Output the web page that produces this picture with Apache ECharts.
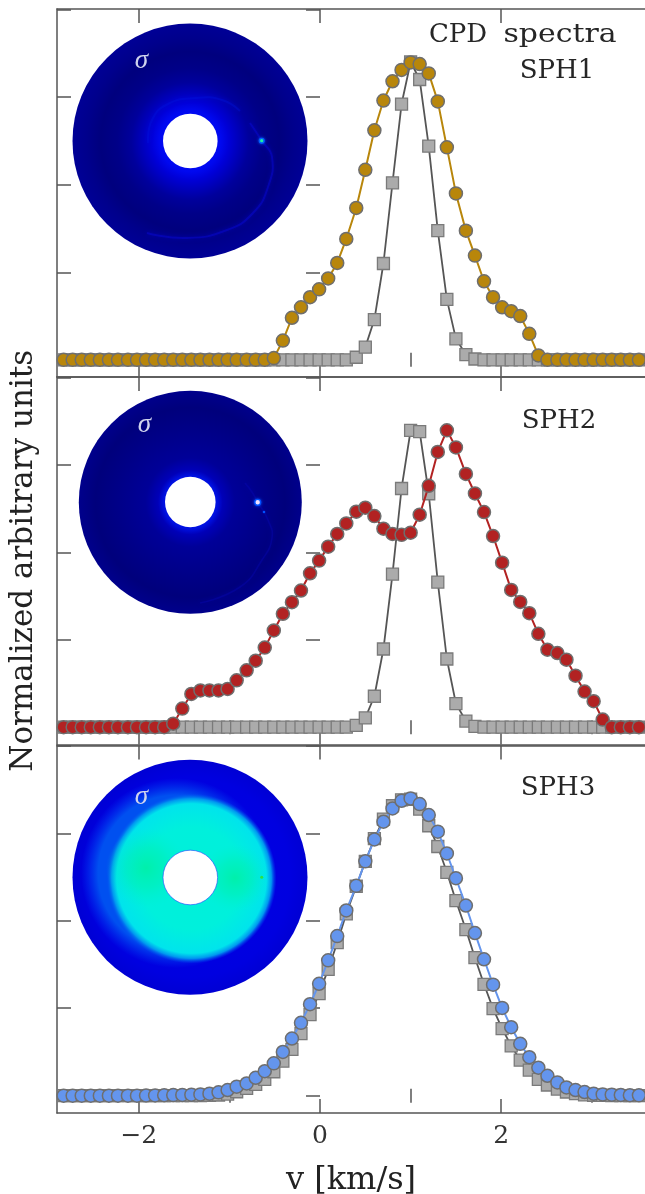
<!DOCTYPE html>
<html><head><meta charset="utf-8">
<style>html,body{margin:0;padding:0;background:#fff}#c{width:645px;height:1194px}</style>
<script src="https://cdn.jsdelivr.net/npm/echarts@6/dist/echarts.min.js"></script>
</head><body><div id="c"></div>
<script>
const velocity=[-2.83,-2.73,-2.63,-2.53,-2.43,-2.33,-2.23,-2.12,-2.02,-1.92,-1.82,-1.72,-1.62,-1.52,-1.42,-1.32,-1.22,-1.12,-1.02,-0.92,-0.81,-0.71,-0.61,-0.51,-0.41,-0.31,-0.21,-0.11,-0.01,0.09,0.19,0.29,0.40,0.50,0.60,0.70,0.80,0.90,1.00,1.10,1.20,1.30,1.40,1.50,1.61,1.71,1.81,1.91,2.01,2.11,2.21,2.31,2.41,2.51,2.62,2.72,2.82,2.92,3.02,3.12,3.22,3.32,3.42,3.52];
const sph1=[0,0,0,0,0,0,0,0,0,0,0,0,0,0,0,0,0,0,0,0,0,0,0,0.02,0.22,0.48,0.60,0.715,0.805,0.93,1.106,1.38,1.734,2.17,2.62,2.96,3.18,3.31,3.395,3.376,3.27,2.95,2.426,1.90,1.475,1.19,0.897,0.715,0.60,0.555,0.50,0.297,0.05,0,0,0,0,0,0,0,0,0,0,0];
const ref1=[0,0,0,0,0,0,0,0,0,0,0,0,0,0,0,0,0,0,0,0,0,0,0,0,0,0,0,0,0,0,0,0,0.03,0.145,0.46,1.10,2.02,2.92,3.40,3.20,2.44,1.475,0.69,0.24,0.06,0.01,0,0,0,0,0,0,0,0,0,0,0,0,0,0,0,0,0,0];
const sph2=[0,0,0,0,0,0,0,0,0,0,0,0,0.04,0.213,0.38,0.42,0.42,0.42,0.437,0.536,0.65,0.76,0.91,1.106,1.297,1.43,1.563,1.76,1.905,2.065,2.21,2.33,2.464,2.51,2.414,2.27,2.21,2.20,2.224,2.43,2.76,3.148,3.395,3.20,2.897,2.673,2.46,2.186,1.882,1.57,1.433,1.304,1.068,0.886,0.848,0.772,0.589,0.407,0.297,0.087,0,0,0,0];
const ref2=[0,0,0,0,0,0,0,0,0,0,0,0,0,0,0,0,0,0,0,0,0,0,0,0,0,0,0,0,0,0,0,0,0.02,0.106,0.354,0.894,1.75,2.73,3.395,3.38,2.67,1.66,0.78,0.27,0.07,0.01,0,0,0,0,0,0,0,0,0,0,0,0,0,0,0,0,0,0];
const sph3=[0,0,0,0,0,0,0,0,0,0.002,0.003,0.005,0.007,0.009,0.012,0.015,0.023,0.038,0.065,0.103,0.14,0.205,0.28,0.37,0.50,0.654,0.833,1.046,1.28,1.548,1.825,2.118,2.40,2.68,2.93,3.133,3.285,3.373,3.40,3.335,3.21,3.02,2.77,2.487,2.175,1.86,1.56,1.27,1.004,0.783,0.593,0.44,0.32,0.228,0.152,0.095,0.065,0.042,0.023,0.015,0.012,0.008,0.005,0.004];
const ref3=[0,0,0,0,0,0,0,0,0,0,0,0,0,0,0,0.002,0.005,0.008,0.019,0.045,0.084,0.13,0.186,0.274,0.395,0.53,0.71,0.928,1.167,1.445,1.75,2.08,2.395,2.68,2.94,3.163,3.316,3.384,3.39,3.278,3.087,2.85,2.555,2.23,1.90,1.578,1.274,0.996,0.768,0.57,0.407,0.293,0.186,0.122,0.076,0.042,0.023,0.01,0.005,0.003,0.002,0,0,0];
const panelNames=['SPH1','SPH2','SPH3'];
const colours=['#B8860B','#B22222','#6495ED'];
const spectra=[sph1,sph2,sph3];
const references=[ref1,ref2,ref3];
const majorX=[-2,0,2], minorX=[-1,1,3], yTicks=[0,1,2,3,4];
const FONT='DejaVu Serif', AXC='#555';

const tops=[9,377,745.5], H=367.5, yMins=[-0.19,-0.198,-0.198];
const grid=tops.map(t=>({left:57,right:0,top:t,height:H,containLabel:false,outerBoundsMode:'none'}));
const xAxis=[],yAxis=[],series=[];
tops.forEach((t,g)=>{
  const base={type:'value',gridIndex:g,min:-2.903,max:3.587,splitLine:{show:false},axisLabel:{show:false},axisLine:{show:false}};
  const mk=(pos,vals,len,extra)=>Object.assign({},base,{position:pos,axisTick:{show:true,inside:true,length:len,customValues:vals,lineStyle:{color:AXC,width:1.5}}},extra||{});
  const line={axisLine:{show:true,onZero:false,lineStyle:{color:AXC,width:1.5}}};
  const bottom=mk('bottom',majorX,14,line);
  if(g===2){
    bottom.axisLabel={show:true,customValues:majorX,margin:11,fontFamily:FONT,fontSize:25,color:'#333',formatter:v=>String(v).replace('-','\u2212')};
    bottom.name='v [km/s]';bottom.nameLocation='middle';bottom.nameGap=52;
    bottom.nameTextStyle={fontFamily:FONT,fontSize:32,color:'#222'};
  }
  xAxis.push(bottom);
  xAxis.push(mk('top',majorX,14,line));
  xAxis.push(mk('bottom',minorX,7));
  xAxis.push(mk('top',minorX,7));
  const yb={type:'value',gridIndex:g,min:yMins[g],max:4.005,splitLine:{show:false},axisLabel:{show:false}};
  const left=Object.assign({},yb,{position:'left',axisLine:{show:true,onZero:false,lineStyle:{color:AXC,width:1.5}},axisTick:{show:true,inside:true,length:14,customValues:yTicks,lineStyle:{color:AXC,width:1.5}}});
  if(g===1){left.name='Normalized arbitrary units';left.nameLocation='middle';left.nameGap=18;left.nameRotate=90;left.nameTextStyle={fontFamily:FONT,fontSize:31,color:'#222'};}
  yAxis.push(left);
  yAxis.push(Object.assign({},yb,{position:'right',axisLine:{show:false},axisTick:{show:true,inside:true,length:14,customValues:yTicks,lineStyle:{color:AXC,width:1.5}}}));
  const pts=a=>a.map((y,i)=>[velocity[i],y]);
  series.push({type:'line',name:panelNames[g]+' reference',xAxisIndex:4*g,yAxisIndex:2*g,data:pts(references[g]),symbol:'rect',symbolSize:12,showAllSymbol:true,clip:false,animation:false,z:3,
    lineStyle:{color:'#555',width:1.8},itemStyle:{color:'#ABABAB',borderColor:'#7a7a7a',borderWidth:1.3}});
  series.push({type:'line',name:panelNames[g],xAxisIndex:4*g,yAxisIndex:2*g,data:pts(spectra[g]),symbol:'circle',symbolSize:13,showAllSymbol:true,clip:false,animation:false,z:4,
    lineStyle:{color:colours[g],width:2},itemStyle:{color:colours[g],borderColor:'#6e6e6e',borderWidth:1.5}});
});

// decorative disk maps
const radial=(stops)=>({type:'radial',x:.5,y:.5,r:.5,global:false,colorStops:stops.map(s=>({offset:s[0],color:s[1]}))});
const circle=(cx,cy,r,fill,extra)=>Object.assign({type:'circle',shape:{cx,cy,r},style:Object.assign({fill},extra||{})});
const arm=(points,color,w,blur,op)=>({type:'polyline',shape:{points,smooth:0.5},style:{fill:null,stroke:color,lineWidth:w,shadowBlur:blur,shadowColor:color,opacity:op}});
const sigma=(x,y)=>({type:'text',style:{x,y,text:'\u03C3',font:'italic 27px "Liberation Serif"',fill:'#cfd3ee',textAlign:'center',textVerticalAlign:'middle'}});
const label=(x,y,t,sx)=>({type:'text',x,y,scaleX:sx||1,style:{x:0,y:0,text:t,font:'26px "DejaVu Serif"',fill:'#262626',textAlign:'center',textVerticalAlign:'middle'}});
const elements=[];
// disk 1
elements.push(circle(190,141,117.5,radial([[0,'#0010ff'],[0.26,'#0008f0'],[0.33,'#0000d8'],[0.42,'#0000b8'],[0.5,'#00009c'],[0.62,'#000088'],[0.76,'#00007e'],[0.88,'#00008c'],[1,'#000096']])));
elements.push(arm([[240,111],[222,100],[195,98],[168,104],[152,120],[148,143]],'#0018e0',2,4,.3));
elements.push(arm([[250,123],[262,141],[272,157],[268,187],[253,213],[227,230],[187,238],[147,233]],'#0808d0',2,4,.5));
elements.push(circle(190.3,141,27.3,'#fff'));
elements.push(circle(261.7,140.7,3,'#0060ff',{shadowBlur:3,shadowColor:'#0060ff'}));
elements.push(circle(261.7,140.7,1.6,'#20f0a0'));
elements.push(sigma(141.5,61));
// disk 2
elements.push(circle(190.3,502.3,111.5,radial([[0,'#0018ff'],[0.24,'#0010e0'],[0.29,'#0000b8'],[0.4,'#000098'],[0.65,'#000088'],[0.85,'#00007c'],[1,'#00008c']])));
elements.push(arm([[245,483],[252,492],[257.7,502],[268,520],[272,538],[262,560],[240,587],[200,603]],'#0808b8',1.6,4,.35));
elements.push(circle(190.3,502,25.3,'#fff'));
elements.push(circle(257.7,502.3,3.6,'#0050ff',{shadowBlur:3,shadowColor:'#0050ff'}));
elements.push(circle(257.7,502.3,2.2,'#f0e0ff'));
elements.push(circle(264,512,1.3,'#0050ff'));
elements.push(sigma(144.5,425));
// disk 3
elements.push(circle(190,877.3,117.5,radial([[0,'#0000e8'],[0.85,'#0000e0'],[1,'#0000d4']])));
elements.push(circle(176,873,95,radial([[0,'#0050f0'],[0.82,'#0050f0'],[1,'rgba(0,60,240,0)']])));
elements.push(circle(191.5,878.5,85,radial([[0,'#00f0d8'],[0.6,'#00f0dc'],[0.88,'#00e4ec'],[0.94,'#0098f0'],[1,'rgba(0,80,240,0)']])));
elements.push(circle(146,868,40,radial([[0,'rgba(0,240,150,.7)'],[0.5,'rgba(0,240,170,.45)'],[1,'rgba(0,240,200,0)']])));
elements.push(circle(235,878,34,radial([[0,'rgba(0,240,150,.7)'],[0.5,'rgba(0,240,170,.45)'],[1,'rgba(0,240,200,0)']])));
elements.push(circle(190.3,877.5,27.3,'#fff',{stroke:'#2040ff',lineWidth:.6}));
elements.push(circle(261.7,877.3,1.5,'#30e040'));
elements.push(sigma(141.5,797));
// panel labels
elements.push(label(458,35,'CPD'));
elements.push(label(560,35,'spectra',1.15));
elements.push(label(557,71,panelNames[0]));
elements.push(label(559,421,panelNames[1]));
elements.push(label(558,788,panelNames[2]));

const chart=echarts.init(document.getElementById('c'),null,{renderer:'canvas'});
chart.setOption({animation:false,backgroundColor:'#fff',grid,xAxis,yAxis,series,graphic:{elements}});
</script></body></html>
